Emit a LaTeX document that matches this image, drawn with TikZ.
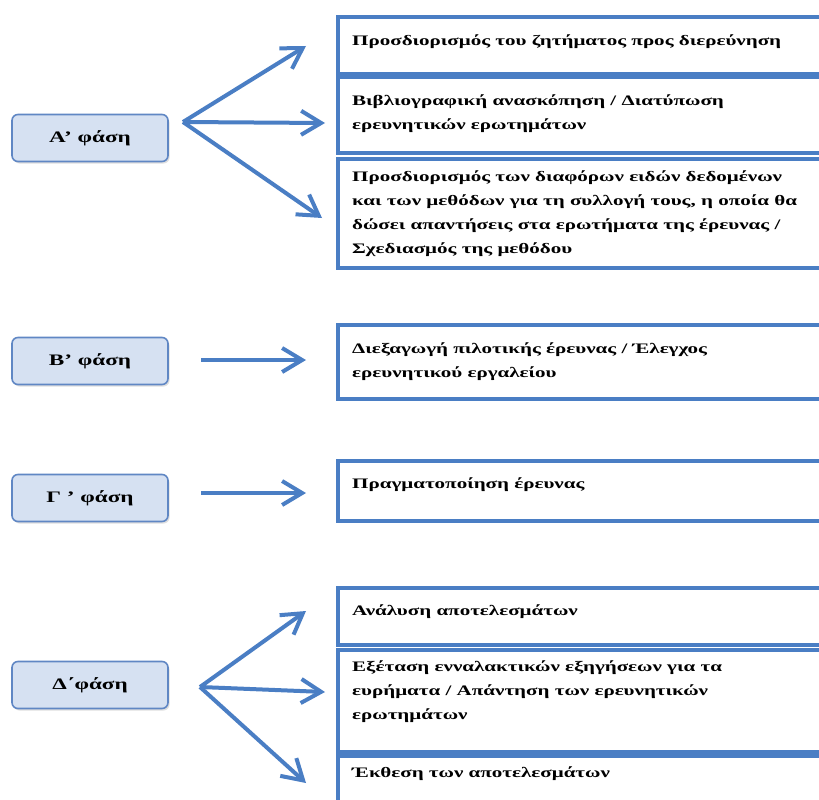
\documentclass[tikz,border=0pt]{standalone}
\usepackage{fontspec}
\setmainfont{Liberation Serif}[FakeStretch=1.45]
\usetikzlibrary{arrows.meta,shadows}
\definecolor{lineblue}{RGB}{74,126,196}
\definecolor{phasefill}{RGB}{214,225,242}
\definecolor{phaseedge}{RGB}{96,135,196}

\begin{document}
\begin{tikzpicture}[x=1pt, y=-1pt,
    phase/.style={draw=phaseedge, line width=1.6pt, fill=phasefill, rounded corners=6pt,
      minimum width=156pt, minimum height=47pt, inner sep=0pt,
      font=\fontsize{16}{18}\selectfont\bfseries,
      drop shadow={shadow xshift=1.5pt, shadow yshift=-2pt, opacity=0.25}},
    stage/.style={draw=lineblue, line width=3.6pt, fill=white, inner sep=0pt,
      anchor=north west, minimum width=520pt},
    stagetext/.style={anchor=north west, inner sep=0pt, align=left,
      font=\fontsize{14.5}{24}\selectfont\bfseries},
    flow/.style={draw=lineblue, line width=4pt,
      -{Straight Barb[length=20pt, width=24pt, line width=4pt]}}]
    \clip (0,0) rectangle (819,800);
    \fill[white] (0,0) rectangle (819,800);

    % Phase boxes
    \node[phase] (phA) at (90,138) {Α’ φάση};
    \node[phase] (phB) at (90,361) {Β’ φάση};
    \node[phase] (phC) at (90,498) {Γ ’ φάση};
    \node[phase] (phD) at (90,685) {Δ΄φάση};

    % Stage boxes: name / top / height / offset of first line / text
    \foreach \n/\t/\h/\o/\txt in {
        a1/15/57.5/30/{Προσδιορισμός του ζητήματος προς διερεύνηση},
        a2/75.5/75.5/29/{Βιβλιογραφική ανασκόπηση / Διατύπωση\\ερευνητικών ερωτημάτων},
        a3/157/109/24/{Προσδιορισμός των διαφόρων ειδών δεδομένων\\και των μεθόδων για τη συλλογή τους, η οποία θα\\δώσει απαντήσεις στα ερωτήματα της έρευνας /\\Σχεδιασμός της μεθόδου},
        b1/323/74/30/{Διεξαγωγή πιλοτικής έρευνας / Έλεγχος\\ερευνητικού εργαλείου},
        c1/459/60/29/{Πραγματοποίηση έρευνας},
        d1/586/57/29/{Ανάλυση αποτελεσμάτων},
        d2/648/102/23/{Εξέταση ενναλακτικών εξηγήσεων για τα\\ευρήματα / Απάντηση των ερευνητικών\\ερωτημάτων},
        d3/754/80/23/{Έκθεση των αποτελεσμάτων}} {
      \node[stage, minimum height=\h pt] (\n) at (336,\t) {};
      \node[stagetext] (\n txt) at (352,\t+\o-10) {\txt};
    }

    % Arrows
    \coordinate (forkA) at (183,122);
    \coordinate (forkD) at (200,687);
    \coordinate (tipA1) at (306,46);
    \coordinate (tipA2) at (325,123);
    \coordinate (tipA3) at (322,218);
    \coordinate (tipD1) at (306,611);
    \coordinate (tipD2) at (325,692);
    \coordinate (tipD3) at (306,783);
    \coordinate (startB) at (201,360);
    \coordinate (tipB) at (306,360);
    \coordinate (startC) at (201,493);
    \coordinate (tipC) at (306,493);
    \foreach \s/\e in {forkA/tipA1, forkA/tipA2, forkA/tipA3,
        startB/tipB, startC/tipC, forkD/tipD1, forkD/tipD2, forkD/tipD3}
      \draw[flow] (\s) -- (\e);
\end{tikzpicture}
\end{document}
